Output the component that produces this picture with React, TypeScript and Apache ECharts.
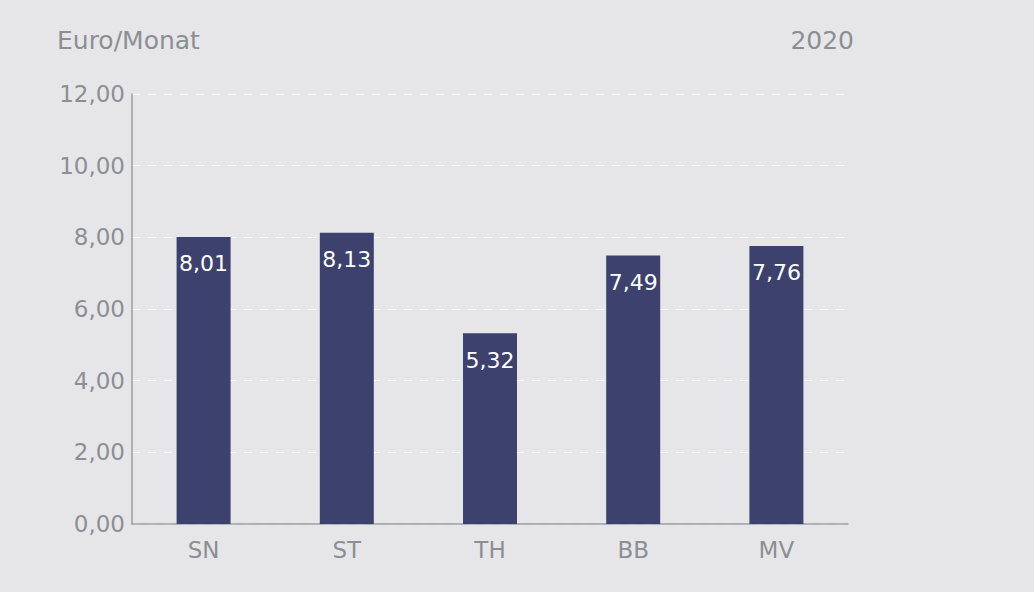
import React, { useEffect, useRef } from "react";
import * as echarts from "echarts";

const categories = ["SN", "ST", "TH", "BB", "MV"];
const values = [8.01, 8.13, 5.32, 7.49, 7.76];
const unitLabel = "Euro/Monat";
const yearLabel = "2020";

const fmt = (v: number) => v.toFixed(2).replace(".", ",");
const gray = "#8b8f93";
const font = "'DejaVu Sans', sans-serif";

export default function App() {
  const ref = useRef<HTMLDivElement>(null);
  useEffect(() => {
    const chart = echarts.init(ref.current!, null, { renderer: "svg" });
    chart.setOption({
      animation: false,
      backgroundColor: "#e6e6e8",
      grid: { left: 132, right: 186, top: 94, bottom: 68, containLabel: false },
      graphic: [
        { type: "text", left: 57, top: 28, style: { text: unitLabel, fill: gray, font: `25px ${font}` } },
        { type: "text", right: 180, top: 28, style: { text: yearLabel, fill: gray, font: `25px ${font}` } },
      ],
      xAxis: {
        type: "category",
        data: categories,
        axisLine: { lineStyle: { color: "#9a9ea2", width: 1.5 } },
        axisTick: { show: false },
        axisLabel: { color: gray, fontSize: 23, fontFamily: font, margin: 14 },
      },
      yAxis: {
        type: "value",
        min: 0,
        max: 12,
        interval: 2,
        axisLine: { show: true, lineStyle: { color: "#9a9ea2", width: 1.5 } },
        axisTick: { show: false },
        axisLabel: { color: gray, fontSize: 23, fontFamily: font, margin: 7, formatter: (v: number) => fmt(v) },
        splitLine: { lineStyle: { color: "#ffffff", type: [8, 8], width: 1 } },
      },
      series: [
        {
          type: "bar",
          data: values,
          barWidth: 54,
          itemStyle: { color: "#3c416e" },
          label: {
            show: true,
            position: "insideTop",
            distance: 16,
            color: "#ffffff",
            fontSize: 22,
            fontFamily: font,
            formatter: (p: any) => fmt(p.value),
          },
        },
      ],
    });
    return () => chart.dispose();
  }, []);
  return <div ref={ref} style={{ position: "fixed", left: 0, top: 0, width: 1034, height: 592 }} />;
}
